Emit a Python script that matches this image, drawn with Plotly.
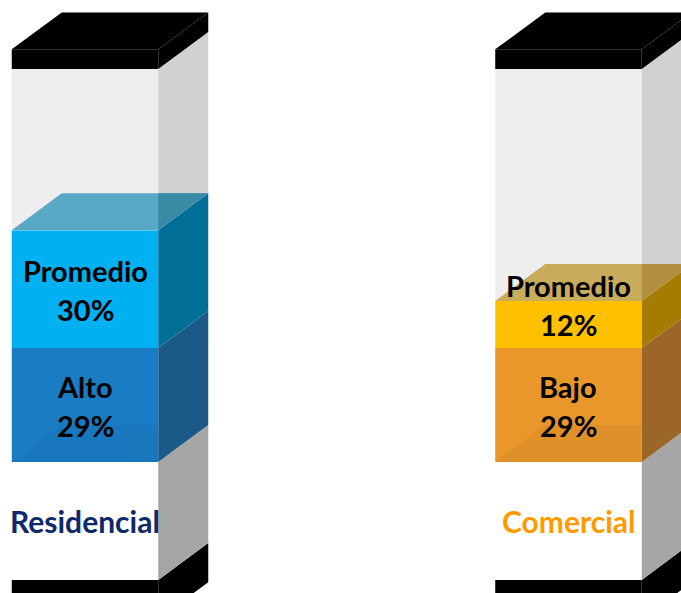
import plotly.graph_objects as go

# Data
categories = ["Residencial", "Comercial"]
lower_names = ["Alto", "Bajo"]
lower_values = [29, 29]
middle_names = ["Promedio", "Promedio"]
middle_values = [30, 12]
total = 100

# Style
FONT = "Lato"
category_colors = ["#0E2A6A", "#FF9A00"]
lower_front = ["#1A7CC5", "#E9962A"]
lower_side = ["#1B5A88", "#9C6626"]
middle_front = ["#00B0F0", "#FFC000"]
middle_side = ["#006E96", "#A67C00"]
middle_top = ["#58A8C6", "#C9AC5B"]
middle_top_edge = ["#3A8AA6", "#B08F3E"]
rest_front, rest_side = "#EEEEEE", "#D1D1D1"
plinth_front, plinth_side = "#FFFFFF", "#A6A6A6"
black = "#000000"

W = 0.303            # column width (x units)
DX, DY = 0.1034, 9.41  # depth offset of the 3D faces
PLINTH = 30          # white base block height
FOOT = 10            # black footing height
LID = 5              # black lid thickness
mid_label_lift = [0, 20]  # px
SEG_FONT = 29
CAT_FONT = 30

xs = list(range(len(categories)))
rest_values = [total - a - b for a, b in zip(lower_values, middle_values)]
middle_base = lower_values
rest_base = [a + b for a, b in zip(lower_values, middle_values)]

fig = go.Figure()


def bar(y, base, colors):
    fig.add_trace(go.Bar(x=xs, y=y, base=base, width=W, marker_color=colors,
                         marker_line_width=0, hoverinfo="skip", showlegend=False))


# front faces
bar([FOOT] * 2, [-PLINTH - FOOT] * 2, [black] * 2)
bar([PLINTH] * 2, [-PLINTH] * 2, [plinth_front] * 2)
bar(lower_values, [0] * 2, lower_front)
bar(middle_values, middle_base, middle_front)
bar(rest_values, rest_base, [rest_front] * 2)
bar([LID] * 2, [total] * 2, [black] * 2)

shapes = []


def poly(pts, color):
    d = "M " + " L ".join(f"{x},{y}" for x, y in pts) + " Z"
    shapes.append(dict(type="path", path=d, xref="x", yref="y", fillcolor=color,
                       line=dict(width=0), layer="above"))


def side(x, y0, y1, color):
    xr = x + W / 2
    poly([(xr, y0), (xr, y1), (xr + DX, y1 + DY), (xr + DX, y0 + DY)], color)


def top(x, y, color):
    xl, xr = x - W / 2, x + W / 2
    poly([(xl, y), (xr, y), (xr + DX, y + DY), (xl + DX, y + DY)], color)


for i, x in enumerate(xs):
    lo, mid, rb = lower_values[i], middle_values[i], rest_base[i]
    xl, xr = x - W / 2, x + W / 2
    side(x, -PLINTH - FOOT, -PLINTH, black)
    side(x, -PLINTH, 0, plinth_side)
    side(x, 0, lo, lower_side[i])
    side(x, lo, rb, middle_side[i])
    side(x, rb, total, rest_side)
    side(x, total, total + LID, black)
    # top face of the coloured stack, seen through the grey part
    top(x, rb, middle_top[i])
    poly([(xr, rb), (xr + DX, rb + DY), (xr, rb + DY)], middle_top_edge[i])
    # faint top of the white block, seen through the lower segment
    poly([(xl, 0), (xr, 0), (xr, DY), (xl + DX, DY)], "rgba(0,0,0,0.035)")
    # lid
    top(x, total + LID, black)

annotations = []


def label(x, y, text, size, color, shift):
    annotations.append(dict(x=x, y=y, xref="x", yref="y", text=text, showarrow=False,
                            yshift=shift, xanchor="center", yanchor="middle",
                            font=dict(family=FONT, size=size, color=color, weight="bold")))


for i, x in enumerate(xs):
    lc = lower_values[i] / 2
    mc = middle_base[i] + middle_values[i] / 2
    label(x, lc, lower_names[i], SEG_FONT, "#000000", 19)
    label(x, lc, f"{lower_values[i]}%", SEG_FONT, "#000000", -20)
    label(x, mc, middle_names[i], SEG_FONT, "#000000", 19 + mid_label_lift[i])
    label(x, mc, f"{middle_values[i]}%", SEG_FONT, "#000000", -20 + mid_label_lift[i])
    label(x, -PLINTH / 2, categories[i], CAT_FONT, category_colors[i], 0)

fig.update_layout(
    width=681, height=593,
    margin=dict(l=0, r=0, t=0, b=0),
    paper_bgcolor="white", plot_bgcolor="white",
    barmode="overlay",
    shapes=shapes, annotations=annotations,
    xaxis=dict(range=[-0.1758, 1.2327], visible=False, fixedrange=True),
    yaxis=dict(range=[-33.33, 117.56], visible=False, fixedrange=True),
    showlegend=False,
)

fig.write_html("out.html")
